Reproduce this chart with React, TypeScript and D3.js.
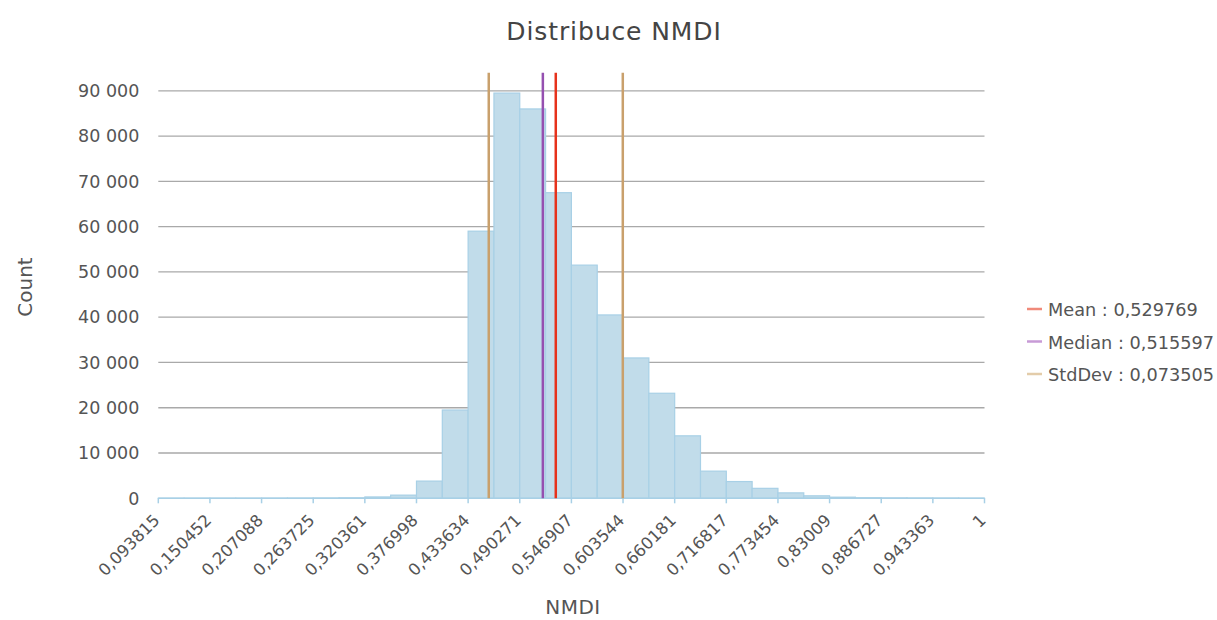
import React, { useEffect, useRef } from "react";
import * as d3 from "d3";

// histogram bins (NMDI), 32 bins between 0.093815 and 1
const binStart = 0.093815;
const binEnd = 1;
const binCounts = [
  20, 20, 20, 20, 30, 40, 60, 100, 300, 700, 3800, 19500, 59000, 89500, 86000, 67500,
  51500, 40500, 31000, 23200, 13800, 6000, 3700, 2200, 1200, 550, 250, 120, 80, 60, 40, 20,
];
const tickLabels = [
  "0,093815", "0,150452", "0,207088", "0,263725", "0,320361", "0,376998", "0,433634",
  "0,490271", "0,546907", "0,603544", "0,660181", "0,716817", "0,773454", "0,83009",
  "0,886727", "0,943363", "1",
];
const yTicks = [0, 10000, 20000, 30000, 40000, 50000, 60000, 70000, 80000, 90000];
const meanValue = 0.529769;
const medianValue = 0.515597;
const stdDevValue = 0.073505;

const legendItems = [
  { label: "Mean : 0,529769", color: "#f08a7a" },
  { label: "Median : 0,515597", color: "#c79ad6" },
  { label: "StdDev : 0,073505", color: "#e3ccaa" },
];

const W = 1217;
const H = 620;
const font = "'DejaVu Sans', Verdana, sans-serif";

const App = () => {
  const ref = useRef<SVGSVGElement>(null);

  useEffect(() => {
    const svg = d3.select(ref.current);
    svg.selectAll("*").remove();

    const margin = { top: 72.7, right: 232.5, bottom: 121.7, left: 158.3 };
    const width = W - margin.left - margin.right;
    const height = H - margin.top - margin.bottom;

    const x = d3.scaleLinear().domain([binStart, binEnd]).range([0, width]);
    const y = d3.scaleLinear().domain([0, 94000]).range([height, 0]);
    const binW = (binEnd - binStart) / binCounts.length;

    const g = svg.append("g").attr("transform", `translate(${margin.left},${margin.top})`);

    // grid lines
    g.selectAll(".grid")
      .data(yTicks.filter(d => d > 0))
      .enter()
      .append("line")
      .attr("x1", 0)
      .attr("x2", width)
      .attr("y1", d => y(d))
      .attr("y2", d => y(d))
      .attr("stroke", "#a9a9a9")
      .attr("stroke-width", 1.3);

    // y labels
    g.selectAll(".ylab")
      .data(yTicks)
      .enter()
      .append("text")
      .attr("x", -19)
      .attr("y", d => y(d))
      .attr("dy", "0.36em")
      .attr("text-anchor", "end")
      .attr("fill", "#555")
      .style("font-family", font)
      .style("font-size", "17.5px")
      .text(d => d3.format(",")(d).replace(/,/g, " "));

    // bars
    g.selectAll(".bar")
      .data(binCounts)
      .enter()
      .append("rect")
      .attr("x", (d, i) => x(binStart + i * binW))
      .attr("width", x(binStart + binW) - x(binStart))
      .attr("y", d => y(d))
      .attr("height", d => height - y(d))
      .attr("fill", "#c1dcea")
      .attr("stroke", "#a8d0e6")
      .attr("stroke-width", 1.2);

    // x axis
    g.append("line")
      .attr("x1", 0)
      .attr("x2", width)
      .attr("y1", height)
      .attr("y2", height)
      .attr("stroke", "#a8d0e6")
      .attr("stroke-width", 1.5);

    const tickVals = tickLabels.map((t, i) => binStart + i * 2 * binW);
    g.selectAll(".xtick")
      .data(tickVals)
      .enter()
      .append("line")
      .attr("x1", d => x(d))
      .attr("x2", d => x(d))
      .attr("y1", height)
      .attr("y2", height + 5)
      .attr("stroke", "#a8d0e6")
      .attr("stroke-width", 1.5);

    g.selectAll(".xlab")
      .data(tickVals)
      .enter()
      .append("text")
      .attr("transform", d => `translate(${x(d) + 2.5},${height + 23}) rotate(-45)`)
      .attr("text-anchor", "end")
      .attr("fill", "#555")
      .style("font-family", font)
      .style("font-size", "16.5px")
      .text((d, i) => tickLabels[i]);

    // stat lines
    const stats = [
      { v: meanValue - stdDevValue, c: "#c9a06c" },
      { v: meanValue + stdDevValue, c: "#c9a06c" },
      { v: medianValue, c: "#9550b0" },
      { v: meanValue, c: "#e6321c" },
    ];
    g.selectAll(".stat")
      .data(stats)
      .enter()
      .append("line")
      .attr("x1", d => x(d.v))
      .attr("x2", d => x(d.v))
      .attr("y1", 0)
      .attr("y2", height)
      .attr("stroke", d => d.c)
      .attr("stroke-width", 2.5);

    // titles
    svg.append("text")
      .attr("x", 614)
      .attr("y", 39.5)
      .attr("text-anchor", "middle")
      .attr("fill", "#444")
      .style("font-family", font)
      .style("font-size", "25px")
      .style("letter-spacing", "0.9px")
      .text("Distribuce NMDI");

    svg.append("text")
      .attr("transform", `translate(31.5,287) rotate(-90)`)
      .attr("text-anchor", "middle")
      .attr("fill", "#555")
      .style("font-family", font)
      .style("font-size", "20px")
      .text("Count");

    svg.append("text")
      .attr("x", 573)
      .attr("y", 614)
      .attr("text-anchor", "middle")
      .attr("fill", "#555")
      .style("font-family", font)
      .style("font-size", "20px")
      .style("letter-spacing", "0.5px")
      .text("NMDI");

    // legend
    const lg = svg.append("g").attr("transform", "translate(1027,309)");
    legendItems.forEach((item, i) => {
      const row = lg.append("g").attr("transform", `translate(0,${i * 32.5})`);
      row.append("line")
        .attr("x1", 0)
        .attr("x2", 15)
        .attr("y1", 0)
        .attr("y2", 0)
        .attr("stroke", item.color)
        .attr("stroke-width", 2.5);
      row.append("text")
        .attr("x", 21)
        .attr("y", 1)
        .attr("dy", "0.36em")
        .attr("fill", "#555")
        .style("font-family", font)
        .style("font-size", "17.7px")
        .text(item.label);
    });
  }, []);

  return <svg ref={ref} width={W} height={H} style={{ display: "block", position: "absolute", left: 0, top: 0 }} />;
};

export default App;
